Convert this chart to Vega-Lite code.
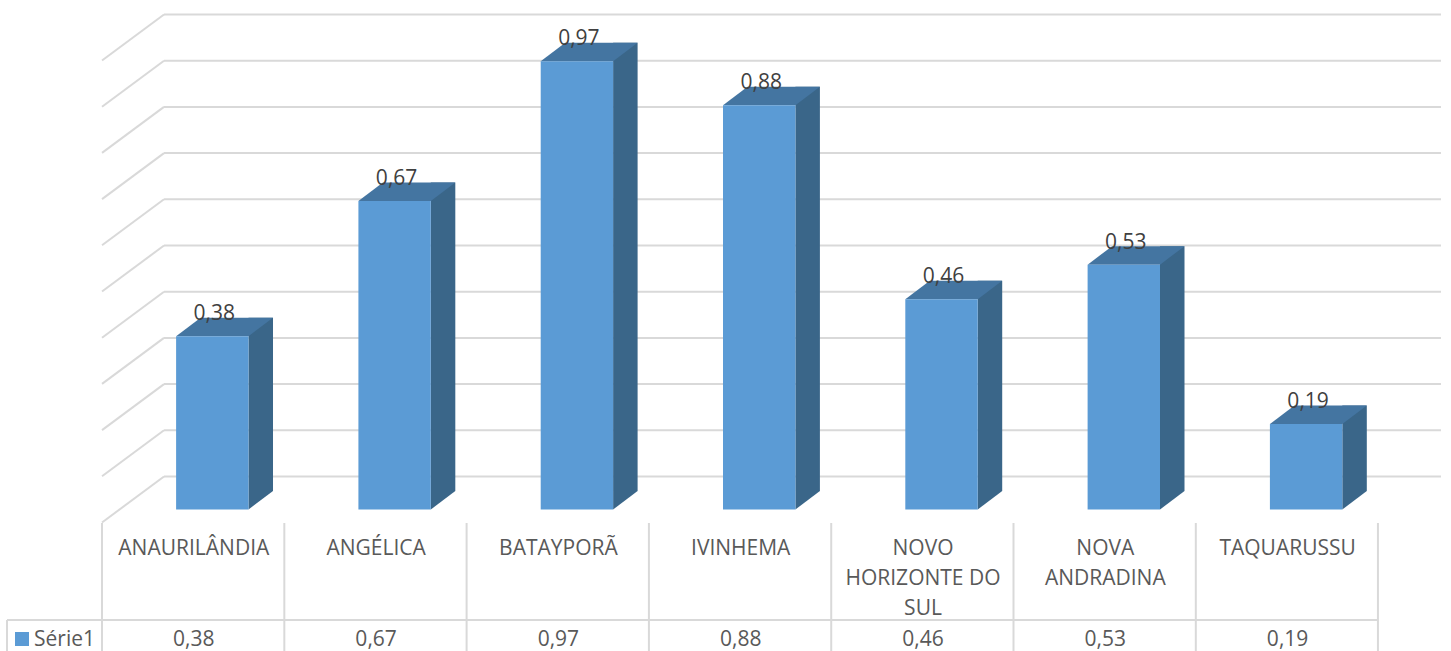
{"$schema":"https://vega.github.io/schema/vega-lite/v6.json","width":1451,"height":651,"padding":0,"autosize":"none","background":"white","config":{"view":{"stroke":null}},
"datasets":{
"bars":[
{"i":0,"municipio":"ANAURILÂNDIA","linhas":"ANAURILÂNDIA","valor":0.375,"rotulo":"0,38"},
{"i":1,"municipio":"ANGÉLICA","linhas":"ANGÉLICA","valor":0.668,"rotulo":"0,67"},
{"i":2,"municipio":"BATAYPORÃ","linhas":"BATAYPORÃ","valor":0.97,"rotulo":"0,97"},
{"i":3,"municipio":"IVINHEMA","linhas":"IVINHEMA","valor":0.875,"rotulo":"0,88"},
{"i":4,"municipio":"NOVO HORIZONTE DO SUL","linhas":"NOVO\nHORIZONTE DO\nSUL","valor":0.455,"rotulo":"0,46"},
{"i":5,"municipio":"NOVA ANDRADINA","linhas":"NOVA\nANDRADINA","valor":0.53,"rotulo":"0,53"},
{"i":6,"municipio":"TAQUARUSSU","linhas":"TAQUARUSSU","valor":0.185,"rotulo":"0,19"}],
"grid":[{"v":0},{"v":0.1},{"v":0.2},{"v":0.3},{"v":0.4},{"v":0.5},{"v":0.6},{"v":0.7},{"v":0.8},{"v":0.9},{"v":1}],
"serie":[{"serie":"Série1"}]},
"layer":[
{"data":{"name":"grid"},"mark":{"type":"rule","color":"#D9D9D9","strokeWidth":2,"yOffset":-33,"y2Offset":-33},
"encoding":{"x":{"datum":-0.2649,"type":"quantitative","scale":{"domain":[-1.1646,6.7948],"nice":false,"zero":false},"axis":null},"x2":{"datum":6.7398},
"y":{"field":"v","type":"quantitative","scale":{"domain":[-0.3063,1.1028],"nice":false,"zero":false},"axis":null},"y2":{"field":"v"}}},
{"data":{"name":"grid"},"mark":{"type":"rule","color":"#D9D9D9","strokeWidth":2,"yOffset":13,"y2Offset":-33},
"encoding":{"x":{"datum":-0.605,"type":"quantitative","scale":{"domain":[-1.1646,6.7948],"nice":false,"zero":false},"axis":null},"x2":{"datum":-0.2649},
"y":{"field":"v","type":"quantitative","scale":{"domain":[-0.3063,1.1028],"nice":false,"zero":false},"axis":null},"y2":{"field":"v"}}},
{"data":{"name":"bars"},"mark":{"type":"rule","color":"#D9D9D9","strokeWidth":2,"xOffset":-110.3},
"encoding":{"x":{"field":"i","type":"quantitative","scale":{"domain":[-1.1646,6.7948],"nice":false,"zero":false},"axis":null},
"y":{"datum":-0.0292,"type":"quantitative","scale":{"domain":[-0.3063,1.1028],"nice":false,"zero":false},"axis":null},"y2":{"datum":-0.3063}}},
{"data":{"values":[{"x":-1.1262}]},"mark":{"type":"rule","color":"#D9D9D9","strokeWidth":2},
"encoding":{"x":{"field":"x","type":"quantitative","scale":{"domain":[-1.1646,6.7948],"nice":false,"zero":false},"axis":null},
"y":{"datum":-0.2392,"type":"quantitative","scale":{"domain":[-0.3063,1.1028],"nice":false,"zero":false},"axis":null},"y2":{"datum":-0.3063}}},
{"data":{"values":[{"x":6.394}]},"mark":{"type":"rule","color":"#D9D9D9","strokeWidth":2},
"encoding":{"x":{"field":"x","type":"quantitative","scale":{"domain":[-1.1646,6.7948],"nice":false,"zero":false},"axis":null},
"y":{"datum":-0.0292,"type":"quantitative","scale":{"domain":[-0.3063,1.1028],"nice":false,"zero":false},"axis":null},"y2":{"datum":-0.3063}}},
{"data":{"name":"serie"},"mark":{"type":"rule","color":"#D9D9D9","strokeWidth":2},
"encoding":{"x":{"datum":-1.1262,"type":"quantitative","scale":{"domain":[-1.1646,6.7948],"nice":false,"zero":false},"axis":null},"x2":{"datum":6.394},
"y":{"datum":-0.2392,"type":"quantitative","scale":{"domain":[-0.3063,1.1028],"nice":false,"zero":false},"axis":null}}},
{"data":{"name":"bars"},"mark":{"type":"rect","color":"#3A6689","xOffset":36.2,"x2Offset":60.7,"yOffset":-18.5,"y2Offset":-18.5},
"encoding":{"x":{"field":"i","type":"quantitative","scale":{"domain":[-1.1646,6.7948],"nice":false,"zero":false},"axis":null},"x2":{"field":"i"},
"y":{"field":"valor","type":"quantitative","scale":{"domain":[-0.3063,1.1028],"nice":false,"zero":false},"axis":null},"y2":{"datum":0}}},
{"data":{"name":"bars"},"mark":{"type":"point","filled":true,"opacity":1,"strokeWidth":0,"size":4,"color":"#3A6689","shape":"M36.2 0L36.2 -18.5L60.7 -18.5Z"},
"encoding":{"x":{"field":"i","type":"quantitative","scale":{"domain":[-1.1646,6.7948],"nice":false,"zero":false},"axis":null},
"y":{"datum":0,"type":"quantitative","scale":{"domain":[-0.3063,1.1028],"nice":false,"zero":false},"axis":null}}},
{"data":{"name":"bars"},"mark":{"type":"point","filled":true,"opacity":1,"strokeWidth":0,"size":4,"color":"#4475A1","shape":"M-36.2 0L36.2 0L60.7 -18.5L-11.7 -18.5Z"},
"encoding":{"x":{"field":"i","type":"quantitative","scale":{"domain":[-1.1646,6.7948],"nice":false,"zero":false},"axis":null},
"y":{"field":"valor","type":"quantitative","scale":{"domain":[-0.3063,1.1028],"nice":false,"zero":false},"axis":null}}},
{"data":{"name":"bars"},"mark":{"type":"rect","color":"#5B9BD5","xOffset":-36.2,"x2Offset":36.2},
"encoding":{"x":{"field":"i","type":"quantitative","scale":{"domain":[-1.1646,6.7948],"nice":false,"zero":false},"axis":null},"x2":{"field":"i"},
"y":{"field":"valor","type":"quantitative","scale":{"domain":[-0.3063,1.1028],"nice":false,"zero":false},"axis":null},"y2":{"datum":0}}},
{"data":{"name":"bars"},"mark":{"type":"text","font":"Open Sans","fontSize":21,"color":"#404040","align":"center","baseline":"alphabetic","dx":2,"dy":-16},
"encoding":{"x":{"field":"i","type":"quantitative","scale":{"domain":[-1.1646,6.7948],"nice":false,"zero":false},"axis":null},
"y":{"field":"valor","type":"quantitative","scale":{"domain":[-0.3063,1.1028],"nice":false,"zero":false},"axis":null},"text":{"field":"rotulo"}}},
{"data":{"name":"bars"},"mark":{"type":"text","font":"Open Sans","fontSize":21,"color":"#595959","align":"center","baseline":"alphabetic","dx":-18.5,"lineBreak":"\n","lineHeight":30},
"encoding":{"x":{"field":"i","type":"quantitative","scale":{"domain":[-1.1646,6.7948],"nice":false,"zero":false},"axis":null},
"y":{"datum":-0.0985,"type":"quantitative","scale":{"domain":[-0.3063,1.1028],"nice":false,"zero":false},"axis":null},"text":{"field":"linhas"}}},
{"data":{"name":"bars"},"mark":{"type":"text","font":"Open Sans","fontSize":21,"color":"#595959","align":"center","baseline":"alphabetic","dx":-18.5},
"encoding":{"x":{"field":"i","type":"quantitative","scale":{"domain":[-1.1646,6.7948],"nice":false,"zero":false},"axis":null},
"y":{"datum":-0.2955,"type":"quantitative","scale":{"domain":[-0.3063,1.1028],"nice":false,"zero":false},"axis":null},"text":{"field":"rotulo"}}},
{"data":{"name":"serie"},"mark":{"type":"rect","color":"#5B9BD5"},
"encoding":{"x":{"datum":-1.0823,"type":"quantitative","scale":{"domain":[-1.1646,6.7948],"nice":false,"zero":false},"axis":null},"x2":{"datum":-1.0055},
"y":{"datum":-0.2652,"type":"quantitative","scale":{"domain":[-0.3063,1.1028],"nice":false,"zero":false},"axis":null},"y2":{"datum":-0.2955}}},
{"data":{"name":"serie"},"mark":{"type":"text","font":"Open Sans","fontSize":21,"color":"#595959","align":"left","baseline":"alphabetic"},
"encoding":{"x":{"datum":-0.9781,"type":"quantitative","scale":{"domain":[-1.1646,6.7948],"nice":false,"zero":false},"axis":null},
"y":{"datum":-0.2955,"type":"quantitative","scale":{"domain":[-0.3063,1.1028],"nice":false,"zero":false},"axis":null},"text":{"field":"serie"}}}
]}
